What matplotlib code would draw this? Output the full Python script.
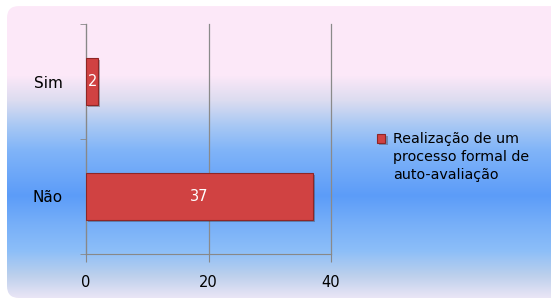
import numpy as np
import matplotlib
matplotlib.use('Agg')
import matplotlib.pyplot as plt
from matplotlib.patches import FancyBboxPatch
import matplotlib.patheffects as pe

categories = ['Sim', 'Não']
values = [2, 37]
x_ticks = [0, 20, 40]
legend_label = 'Realização de um\nprocesso formal de\nauto-avaliação'

plt.rcParams['font.family'] = ['DejaVu Sans']

W, H = 551, 301
fig = plt.figure(figsize=(W / 100, H / 100), dpi=100)
fig.patch.set_facecolor('white')

# fundo com gradiente (rosa -> azul -> lilás) em caixa arredondada
bg = fig.add_axes([0, 0, 1, 1], zorder=-1)
bg.set_xlim(0, W)
bg.set_ylim(H, 0)
bg.axis('off')
stops_y = [6, 75, 100, 125, 150, 195, 225, 250, 275, 298]
stops_c = ['#fde9f8', '#fce8f8', '#dcdcf0', '#a8c8f4', '#80b4f8',
           '#5c9cf8', '#78b0f8', '#8cbef8', '#bcd0ec', '#ece6f6']
rgb = np.array([matplotlib.colors.to_rgb(c) for c in stops_c])
yy = np.arange(H)
grad = np.stack([np.interp(yy, stops_y, rgb[:, k]) for k in range(3)], axis=1)
img = bg.imshow(grad[:, None, :], extent=(0, W, H, 0), aspect='auto')
box = FancyBboxPatch((7, 6), 560, 292, boxstyle='round,pad=0,rounding_size=12',
                     transform=bg.transData, facecolor='none', edgecolor='none')
bg.add_patch(box)
img.set_clip_path(box)

ax = fig.add_axes([86 / W, (H - 254) / H, 245 / W, 230 / H])
ax.set_facecolor('none')

y = np.arange(len(categories))
bars = ax.barh(y, values, height=0.41, color='#d04242', edgecolor='#8e2626',
               linewidth=0.8, label=legend_label, zorder=3)
for b in bars:
    b.set_path_effects([pe.SimplePatchShadow(offset=(1.5, -1.5), shadow_rgbFace='#303030', alpha=0.35),
                        pe.Normal()])
ax.bar_label(bars, label_type='center', color='white', fontsize=10.5)

ax.set_xlim(0, 40)
ax.set_ylim(len(categories) - 0.5, -0.5)
ax.set_xticks(x_ticks)
ax.set_yticks(y)
ax.set_yticklabels(categories)
ax.set_yticks(np.arange(len(categories) + 1) - 0.5, minor=True)
ax.tick_params(axis='y', which='major', length=0, pad=17, labelsize=11)
ax.tick_params(axis='y', which='minor', length=4, color='#888888')
ax.tick_params(axis='x', length=6, color='#888888', pad=9, labelsize=10.5)
ax.grid(axis='x', color='#8a8a8a', linewidth=0.9, zorder=0)
for gl in ax.get_xgridlines():
    gl.set_clip_on(False)
for s in ['top', 'right']:
    ax.spines[s].set_visible(False)
for s in ['left', 'bottom']:
    ax.spines[s].set_color('#888888')

leg = fig.legend(handles=[bars], labels=[legend_label], loc='upper left',
                 bbox_to_anchor=(364 / W, 1 - 119 / H), frameon=False,
                 fontsize=10.3, handlelength=0.6, handleheight=0.6, handletextpad=0.55)
for t in leg.get_texts():
    t.set_linespacing(1.36)
# quadrado da legenda alinhado com a primeira linha
for h in leg.legend_handles:
    h.set_y(h.get_y() + 13.5)

fig.savefig('out.png', dpi=100)
